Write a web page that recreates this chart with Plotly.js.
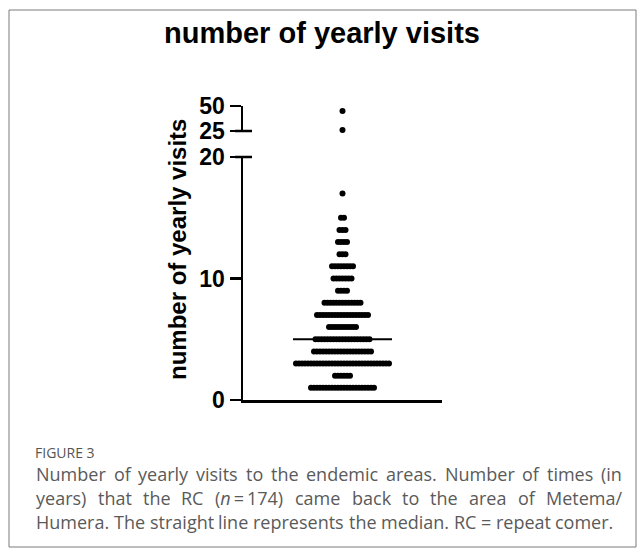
<!DOCTYPE html>
<html>
<head>
<meta charset="utf-8">
<script src="https://cdn.plot.ly/plotly-3.0.1.min.js"></script>
<style>
  html, body { margin: 0; padding: 0; background: #fff; }
  #chart { width: 644px; height: 556px; }
</style>
</head>
<body>
<div id="chart"></div>
<script>
// ---- data ----
const visitValues = [1, 2, 3, 4, 5, 6, 7, 8, 9, 10, 11, 12, 13, 14, 15, 17, 26, 45];
const respondentCounts = [22, 6, 32, 20, 19, 10, 18, 13, 4, 7, 8, 3, 4, 3, 2, 1, 1, 1];
const lowerTicks = [0, 10, 20];
const upperTicks = [25, 50];
const chartTitle = 'number of yearly visits';
const yTitle = 'number of yearly visits';
const figureLabel = 'FIGURE 3';
const captionLines = [
  'Number of yearly visits to the endemic areas. Number of times (in',
  'years) that the RC (<i>n</i>\u2009=\u2009174) came back to the area of Metema/',
  'Humera. The straight line represents the median. RC = repeat comer.'
];

// ---- layout geometry (pixels) ----
const W = 644, H = 556;
const plotL = 243, plotR = 442, plotT = 106, plotB = 400;
const lowerTopPx = 157, upperBottomPx = 131;
const pw = plotR - plotL, ph = plotB - plotT;
const px2x = p => (p - plotL) / pw;
const px2y = p => (plotB - p) / ph;
const xRange = [-1, 1];
const unitsPerPx = (xRange[1] - xRange[0]) / pw;
const dotStep = 3 * unitsPerPx;

// ---- build beeswarm positions from the data ----
const lx = [], ly = [], ux = [], uy = [];
const all = [];
visitValues.forEach((v, i) => {
  const k = respondentCounts[i];
  for (let j = 0; j < k; j++) {
    const xv = (j - (k - 1) / 2) * dotStep;
    all.push(v);
    if (v <= 20) { lx.push(xv); ly.push(v); } else { ux.push(xv); uy.push(v); }
  }
});
all.sort((a, b) => a - b);
const n = all.length;
const median = n % 2 ? all[(n - 1) / 2] : (all[n / 2 - 1] + all[n / 2]) / 2;
const medianHalf = 49.5 * unitsPerPx;

const markerStyle = { color: '#000', size: 6 };
const traces = [
  { x: lx, y: ly, type: 'scatter', mode: 'markers', marker: markerStyle, xaxis: 'x', yaxis: 'y', hoverinfo: 'y', cliponaxis: false },
  { x: ux, y: uy, type: 'scatter', mode: 'markers', marker: markerStyle, xaxis: 'x', yaxis: 'y2', hoverinfo: 'y', cliponaxis: false },
  { x: [-medianHalf, medianHalf], y: [median, median], type: 'scatter', mode: 'lines', line: { color: '#000', width: 2 }, xaxis: 'x', yaxis: 'y', hoverinfo: 'y' }
];

const boldFam = 'Arial, "Liberation Sans", sans-serif';
const axisFont = { family: boldFam, size: 23, color: '#000', weight: 'bold' };
const axisCommon = {
  showline: true, linecolor: '#000', linewidth: 2.5,
  ticks: 'outside', ticklen: 11, tickwidth: 2.5, tickcolor: '#000',
  showgrid: false, zeroline: false, tickfont: axisFont, anchor: 'x', fixedrange: true
};

const shapes = [
  // axis break caps
  { type: 'line', xref: 'paper', yref: 'y domain', x0: -8 / pw, x1: 9 / pw, y0: 1, y1: 1, line: { color: '#000', width: 2.5 } },
  { type: 'line', xref: 'paper', yref: 'y2 domain', x0: -8 / pw, x1: 9 / pw, y0: 0, y1: 0, line: { color: '#000', width: 2.5 } },
  // frame
  { type: 'rect', xref: 'paper', yref: 'paper', x0: px2x(9), x1: px2x(636), y0: px2y(547), y1: px2y(10), line: { color: '#7a7a7a', width: 1 } }
];

const annotations = [
  { text: yTitle, xref: 'paper', yref: 'paper', x: px2x(177), y: px2y(250), textangle: -90, showarrow: false,
    xanchor: 'center', yanchor: 'middle', font: { family: boldFam, size: 24, color: '#000', weight: 'bold' } },
  { text: figureLabel, xref: 'paper', yref: 'paper', x: px2x(34), y: px2y(452), xanchor: 'left', yanchor: 'middle', showarrow: false,
    borderpad: 0, font: { family: '"Open Sans", sans-serif', size: 14, color: '#555' } }
];

// justified caption
const capSize = 18;
const capFont = { family: '"Open Sans", sans-serif', size: capSize, color: '#5a5a5a' };
const cv = document.createElement('canvas').getContext('2d');
cv.font = capSize + 'px "Open Sans"';
const capLeft = 35, capRight = 621;
const capY = [474, 498, 522];
captionLines.forEach((line, li) => {
  const words = line.split(' ');
  const widths = words.map(w => cv.measureText(w.replace(/<[^>]+>/g, '')).width);
  const total = widths.reduce((a, b) => a + b, 0);
  const spaceW = cv.measureText(' ').width;
  const last = li === captionLines.length - 1;
  const gap = last ? spaceW : (capRight - capLeft - total) / (words.length - 1);
  let cx = capLeft;
  words.forEach((w, wi) => {
    annotations.push({ text: w, xref: 'paper', yref: 'paper', x: px2x(cx), y: px2y(capY[li]), xanchor: 'left', yanchor: 'middle',
      showarrow: false, font: capFont, borderpad: 0 });
    cx += widths[wi] + gap;
  });
});

const layout = {
  width: W, height: H,
  margin: { l: plotL, r: W - plotR, t: plotT, b: H - plotB, pad: 0 },
  paper_bgcolor: '#fff', plot_bgcolor: '#fff',
  showlegend: false,
  title: { text: chartTitle, xref: 'container', yref: 'container', x: 322 / W, y: 1 - 33 / H, xanchor: 'center', yanchor: 'middle',
    font: { family: boldFam, size: 29, color: '#000', weight: 'bold' } },
  xaxis: { range: xRange, showline: true, linecolor: '#000', linewidth: 2.5, showticklabels: false, ticks: '', showgrid: false, zeroline: false, anchor: 'y', fixedrange: true },
  yaxis: Object.assign({}, axisCommon, { domain: [0, px2y(lowerTopPx)], range: [0, 20], tickvals: lowerTicks, ticktext: lowerTicks.map(String) }),
  yaxis2: Object.assign({}, axisCommon, { domain: [px2y(upperBottomPx), 1], range: [25, 50], tickvals: upperTicks, ticktext: upperTicks.map(String) }),
  shapes: shapes,
  annotations: annotations
};

Plotly.newPlot('chart', traces, layout, { displayModeBar: false, staticPlot: true });
</script>
</body>
</html>
